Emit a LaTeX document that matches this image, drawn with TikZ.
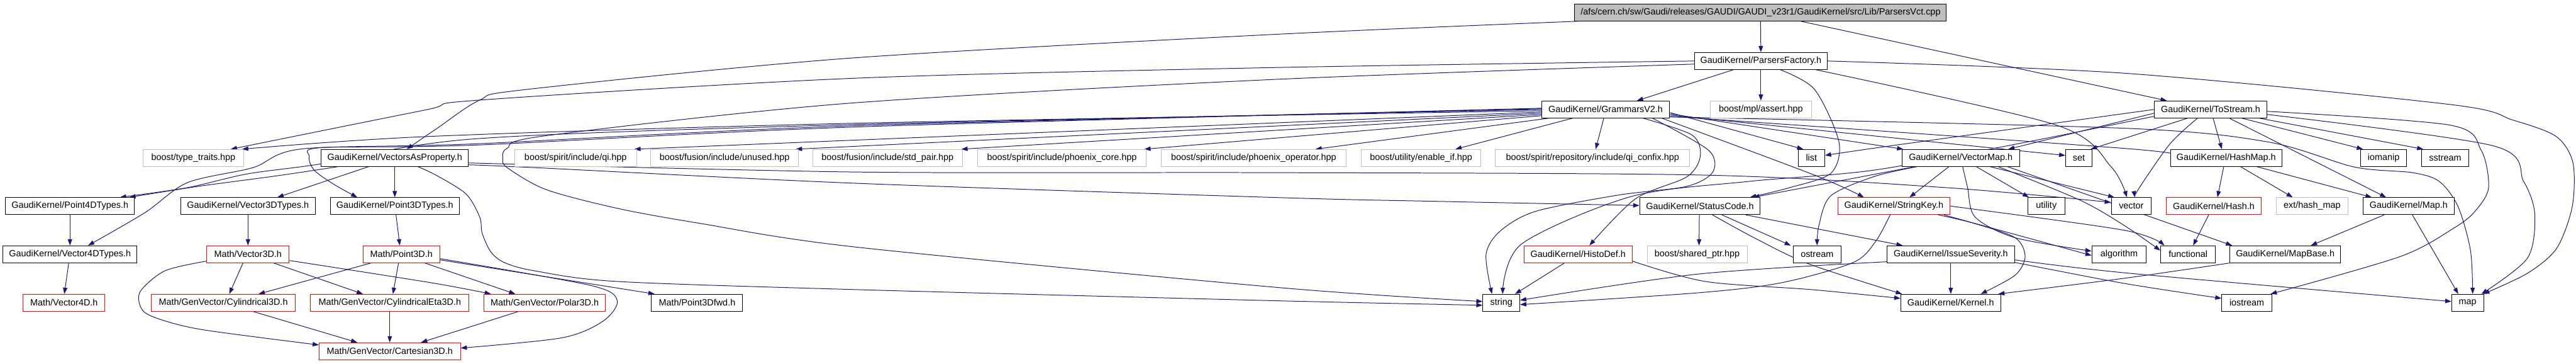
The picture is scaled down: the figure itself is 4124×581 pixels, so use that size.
\documentclass[tikz,border=0pt]{standalone}
\usepackage{fontspec}
\setmainfont{Liberation Sans}
\usetikzlibrary{arrows.meta}
\definecolor{edgec}{HTML}{191970}
\definecolor{gbord}{HTML}{BFBFBF}
\definecolor{rootfill}{HTML}{BFBFBF}
\pgfdeclarelayer{edges}
\pgfsetlayers{edges,main}
\newcommand\nodefont{\fontsize{14.5}{16}\selectfont}
\tikzset{
  nb/.style={draw=black, fill=white, minimum height=27pt, inner sep=0pt, font=\nodefont, line width=1pt},
  gb/.style={nb, draw=gbord},
  rb/.style={nb, draw=red},
  e/.style={draw=edgec, line width=1pt, -{Triangle[length=10pt,width=7pt]}},
  sm/.style={smooth, tension=0.5}
}
\begin{document}
\begin{tikzpicture}[x=1pt,y=-1pt]
\useasboundingbox (0,0) rectangle (4124,581);
% row 0-2
\node[nb,fill=rootfill,minimum width=595pt] (root) at (2818.5,20) {/afs/cern.ch/sw/Gaudi/releases/GAUDI/GAUDI\_v23r1/GaudiKernel/src/Lib/ParsersVct.cpp};
\node[nb,minimum width=212pt] (PF) at (2819,97.5) {GaudiKernel/ParsersFactory.h};
\node[nb,minimum width=205pt] (GV2) at (2570.5,175) {GaudiKernel/GrammarsV2.h};
\node[gb,minimum width=162pt] (mpl) at (2819,175) {boost/mpl/assert.hpp};
\node[nb,minimum width=180pt] (TS) at (3539,175) {GaudiKernel/ToStream.h};
% row 3
\node[gb,minimum width=161pt] (tt) at (309.5,252.5) {boost/type\_traits.hpp};
\node[nb,minimum width=236pt] (VAP) at (632,252.5) {GaudiKernel/VectorsAsProperty.h};
\node[gb,minimum width=195pt] (qi) at (921.5,252.5) {boost/spirit/include/qi.hpp};
\node[gb,minimum width=236pt] (unused) at (1160,252.5) {boost/fusion/include/unused.hpp};
\node[gb,minimum width=240pt] (stdpair) at (1421,252.5) {boost/fusion/include/std\_pair.hpp};
\node[gb,minimum width=270pt] (phcore) at (1700,252.5) {boost/spirit/include/phoenix\_core.hpp};
\node[gb,minimum width=296pt] (phop) at (2007,252.5) {boost/spirit/include/phoenix\_operator.hpp};
\node[gb,minimum width=192pt] (enif) at (2275,252.5) {boost/utility/enable\_if.hpp};
\node[gb,minimum width=311pt] (confix) at (2549.5,252.5) {boost/spirit/repository/include/qi\_confix.hpp};
\node[nb,minimum width=42pt] (list) at (2900,252.5) {list};
\node[nb,minimum width=188pt] (VM) at (3139,252.5) {GaudiKernel/VectorMap.h};
\node[nb,minimum width=42pt] (set) at (3328,252.5) {set};
\node[nb,minimum width=178pt] (HM) at (3564,252.5) {GaudiKernel/HashMap.h};
\node[nb,minimum width=74pt] (iomanip) at (3816,252.5) {iomanip};
\node[nb,minimum width=75pt] (sstream) at (3914.5,252.5) {sstream};
% row 4
\node[nb,minimum width=206pt] (P4T) at (112,329.5) {GaudiKernel/Point4DTypes.h};
\node[nb,minimum width=216pt] (V3T) at (397,329.5) {GaudiKernel/Vector3DTypes.h};
\node[nb,minimum width=206pt] (P3T) at (632,329.5) {GaudiKernel/Point3DTypes.h};
\node[nb,minimum width=193pt] (SC) at (2721.5,329.5) {GaudiKernel/StatusCode.h};
\node[rb,minimum width=180pt] (SK) at (3032,329.5) {GaudiKernel/StringKey.h};
\node[nb,minimum width=60pt] (utility) at (3276,329.5) {utility};
\node[nb,minimum width=64pt] (vector) at (3412,329.5) {vector};
\node[rb,minimum width=152pt] (Hash) at (3544,329.5) {GaudiKernel/Hash.h};
\node[gb,minimum width=115pt] (exthm) at (3701.5,329.5) {ext/hash\_map};
\node[nb,minimum width=146pt] (Map) at (3856,329.5) {GaudiKernel/Map.h};
% row 5
\node[nb,minimum width=214pt] (V4T) at (112,406.5) {GaudiKernel/Vector4DTypes.h};
\node[rb,minimum width=132pt] (MV3) at (397,406.5) {Math/Vector3D.h};
\node[rb,minimum width=123pt] (MP3) at (642.5,406.5) {Math/Point3D.h};
\node[rb,minimum width=173pt] (HD) at (2526.5,406.5) {GaudiKernel/HistoDef.h};
\node[gb,minimum width=160pt] (shptr) at (2717,406.5) {boost/shared\_ptr.hpp};
\node[nb,minimum width=76pt] (ostream) at (2909,406.5) {ostream};
\node[nb,minimum width=204pt] (IS) at (3123,406.5) {GaudiKernel/IssueSeverity.h};
\node[nb,minimum width=87pt] (algorithm) at (3392.5,406.5) {algorithm};
\node[nb,minimum width=88pt] (functional) at (3503,406.5) {functional};
\node[nb,minimum width=177pt] (MB) at (3658.5,406.5) {GaudiKernel/MapBase.h};
% row 6
\node[rb,minimum width=131pt] (MV4) at (102.5,484) {Math/Vector4D.h};
\node[rb,minimum width=231pt] (Cyl) at (357.5,484) {Math/GenVector/Cylindrical3D.h};
\node[rb,minimum width=254pt] (CylEta) at (624,484) {Math/GenVector/CylindricalEta3D.h};
\node[rb,minimum width=194pt] (Polar) at (872,484) {Math/GenVector/Polar3D.h};
\node[nb,minimum width=146pt] (P3fwd) at (1116,484) {Math/Point3Dfwd.h};
\node[nb,minimum width=59pt] (string) at (2403.5,484) {string};
\node[nb,minimum width=160pt] (Kernel) at (3123,484) {GaudiKernel/Kernel.h};
\node[nb,minimum width=80pt] (iostream) at (3597,484) {iostream};
\node[nb,minimum width=51pt] (map) at (3950.5,484) {map};
% row 7
\node[rb,minimum width=226pt] (Cart) at (624,561.5) {Math/GenVector/Cartesian3D.h};

\begin{pgfonlayer}{edges}
% root
\draw[e] (root.south) -- (PF.north);
\draw[e] ([xshift=64.5pt]root.south) -- ([xshift=-70pt]TS.north);
\draw[e] plot[sm] coordinates {([xshift=5pt]root.south west) (2040,55) (1360,93) (843,143) (768,160) (700,205) ([xshift=19pt]VAP.north)};
% ParsersFactory
\draw[e] (PF.south) -- (mpl.north);
\draw[e] ([xshift=-44pt]PF.south) -- ([xshift=50pt]GV2.north);
\draw[e] plot[sm] coordinates {(PF.west) (2040,108) (1370,125) (768,160) (680,176) ([xshift=60pt]tt.north)};
\draw[e] plot[sm] coordinates {([yshift=-5pt]PF.west) (2040,127) (1360,165) (874,217) (812,237) (805,253) (812,268) (874,303) (988,333) (1120,357) (1370,395) (2050,460) ([yshift=2pt]string.west)};
\draw[e] plot[sm] coordinates {([xshift=31pt]PF.south) (2905,143) (2944,227) (2931,277) (2865,300) ([xshift=80pt]SC.north)};
\draw[e] plot[sm] coordinates {(PF.east) (3400,117) (3922,167) (4023,192) (4092,218) (4119,260) (4118,330) (4093,397) (4046,437) ([xshift=25pt]map.north)};
\draw[e] plot[sm] coordinates {([xshift=88pt]PF.south) (3292,200) (3380,267) ([xshift=-7pt]vector.north)};
% GrammarsV2
\draw[e] ([xshift=12pt]GV2.south west) -- ([xshift=99pt]phop.north);
\draw[e] ([yshift=-10pt]GV2.west) -- ([xshift=132pt]phcore.north);
\draw[e] ([yshift=-8pt]GV2.west) -- ([xshift=118pt]stdpair.north);
\draw[e] ([yshift=-6pt]GV2.west) -- ([xshift=114pt]unused.north);
\draw[e] ([yshift=-4pt]GV2.west) -- ([xshift=94pt]qi.north);
\draw[e] plot[sm] coordinates {([yshift=-2pt]GV2.west) (1370,197) (690,218) ([xshift=78pt]tt.north)};
\draw[e] plot[sm] coordinates {(GV2.west) (1370,199) (760,222) (514,262) (396,278) (300,300) ([xshift=80pt]P4T.north)};
\draw[e] plot[sm] coordinates {([yshift=1pt]GV2.west) (1370,201) (760,230) (484,238) (405,268) (300,292) (232,340) ([xshift=29pt]V4T.north)};
\draw[e] plot[sm] coordinates {([yshift=2pt]GV2.west) (1370,203) (760,232) (515,236) (495,250) (503,272) (535,295) ([xshift=-60pt]P3T.north)};
\draw[e] ([xshift=-53pt]GV2.south) -- ([xshift=55pt]enif.north);
\draw[e] ([xshift=-3pt]GV2.south) -- ([xshift=5pt]confix.north);
\draw[e] plot[sm] coordinates {([xshift=60pt]GV2.south) (2709,216) (2722,250) (2700,283) (2618,318) ([xshift=18pt]HD.north)};
\draw[e] ([yshift=-5pt]GV2.east) -- ([xshift=-13pt]list.north);
\draw[e] ([yshift=-7pt]GV2.east) -- ([xshift=-92pt]VM.north);
\draw[e] ([yshift=-9pt]GV2.east) -- ([yshift=4pt]set.west);
\draw[e] plot[sm] coordinates {([yshift=-11pt]GV2.east) (3410,238) ([yshift=2pt]HM.west)};
\draw[e] plot[sm] coordinates {([yshift=-12pt]GV2.east) (3400,205) (3631,227) (3769,267) (3862,276) (3905,290) (3935,330) (3955,400) ([xshift=8pt]map.north)};
\draw[e] plot[sm] coordinates {([xshift=90pt]GV2.south) (2905,280) ([xshift=-48pt]SK.north)};
\draw[e] plot[sm] coordinates {([xshift=75pt]GV2.south) (2735,240) (2742,275) (2700,298) (2590,312) (2458,338) (2401,370) (2379,407) ([xshift=-15pt]string.north)};
% ToStream
\draw[e] plot[sm] coordinates {(TS.west) (3028,233) ([yshift=4pt]list.east)};
\draw[e] ([yshift=-6pt]TS.west) -- ([xshift=76pt]VM.north);
\draw[e] ([xshift=-37pt]TS.south) -- ([xshift=19pt]set.north);
\draw[e] plot[sm] coordinates {([xshift=-21pt]TS.south) (3474,230) (3425,300) ([xshift=6pt]vector.north)};
\draw[e] ([xshift=4pt]TS.south) -- ([xshift=-7pt]HM.north);
\draw[e] ([xshift=30pt]TS.south) -- ([xshift=-36pt]Map.north);
\draw[e] ([xshift=50pt]TS.south) -- ([xshift=-33pt]iomanip.north);
\draw[e] ([xshift=78pt]TS.south) -- ([xshift=-35pt]sstream.north);
\draw[e] plot[sm] coordinates {([yshift=-3pt]TS.east) (3922,200) (3972,240) (3984,300) (3963,337) (3931,363) (3843,410) ([xshift=38pt]iostream.north)};
\draw[e] plot[sm] coordinates {([yshift=-8pt]TS.east) (3991,233) (4040,290) (4058,343) (4046,413) ([xshift=22pt]map.north)};
\draw[e] plot[sm] coordinates {([yshift=-11pt]TS.west) (3240,228) (3000,272) (2800,290) (2612,314) (2436,390) ([xshift=2pt]string.north)};
% VectorMap
\draw[e] ([xshift=-74pt]VM.south) -- ([xshift=85pt]SC.north);
\draw[e] plot[sm] coordinates {([xshift=-70pt]VM.south) (3001,282) (2931,313) (2912,360) (ostream.north)};
\draw[e] ([xshift=-19pt]VM.south) -- ([xshift=25pt]SK.north);
\draw[e] plot[sm] coordinates {([xshift=3pt]VM.south) (3150,300) (3162,347) (3226,380) ([yshift=5pt]algorithm.west)};
\draw[e] ([xshift=25pt]VM.south) -- ([xshift=-28pt]utility.north);
\draw[e] ([xshift=47pt]VM.south) -- ([xshift=-27pt]vector.north);
\draw[e] plot[sm] coordinates {([xshift=60pt]VM.south) (3330,320) (3400,360) ([yshift=6pt]functional.west)};
\draw[e] ([xshift=75pt]VM.south) -- ([xshift=-85pt]MB.north);
% StringKey
\draw[e] plot[sm] coordinates {([xshift=-6pt]SK.south) (3002,387) (2966,420) (2852,452) (2720,468) ([yshift=-3pt]string.east)};
\draw[e] plot[sm] coordinates {([xshift=71pt]SK.south) (3160,357) (3226,380) (3242,410) (3226,440) ([xshift=48pt]Kernel.north)};
\draw[e] ([xshift=80pt]SK.south) -- ([yshift=-2pt]algorithm.west);
\draw[e] plot[sm] coordinates {(SK.east) (3400,368) ([xshift=-38pt]functional.north)};
% HashMap, Hash, Map, MapBase
\draw[e] ([xshift=-4pt]HM.south) -- ([xshift=6pt]Hash.north);
\draw[e] ([xshift=23pt]HM.south) -- ([xshift=-31pt]exthm.north);
\draw[e] ([xshift=49pt]HM.south) -- ([xshift=-59pt]Map.north);
\draw[e] ([xshift=-8pt]Hash.south) -- ([xshift=8pt]functional.north);
\draw[e] ([xshift=-39pt]Map.south) -- ([xshift=41pt]MB.north);
\draw[e] ([xshift=6pt]Map.south) -- ([xshift=-15pt]map.north);
\draw[e] plot[sm] coordinates {(MB.south west) (3400,445) ([xshift=76pt]Kernel.north)};
% StatusCode
\draw[e] ([xshift=-1pt]SC.south) -- ([xshift=3pt]shptr.north);
\draw[e] ([xshift=35pt]SC.south) -- ([xshift=-42pt]ostream.north);
\draw[e] ([xshift=73pt]SC.south) -- ([xshift=-77pt]IS.north);
\draw[e] plot[sm] coordinates {([xshift=20pt]SC.south) (2808,380) (2896,422) ([xshift=-78pt]Kernel.north)};
% HistoDef
\draw[e] ([xshift=-22pt]HD.south) -- ([xshift=22pt]string.north);
\draw[e] plot[sm] coordinates {([yshift=-11pt]HD.east) (2730,450) (2900,463) ([yshift=7pt]Kernel.west)};
% IssueSeverity
\draw[e] (IS.south) -- (Kernel.north);
\draw[e] plot[sm] coordinates {([yshift=-12pt]IS.west) (2720,438) ([yshift=4pt]string.east)};
\draw[e] plot[sm] coordinates {([yshift=-13pt]IS.east) (3400,453) ([yshift=7pt]iostream.west)};
\draw[e] plot[sm] coordinates {([yshift=-9pt]IS.east) (3410,437) ([yshift=2pt]map.west)};
% VectorsAsProperty
\draw[e] ([xshift=-42pt]VAP.south) -- ([xshift=47pt]V3T.north);
\draw[e] (VAP.south) -- (P3T.north);
\draw[e] plot[sm] coordinates {([xshift=-91pt]VAP.south) (444,281) (317,298) ([xshift=95pt]P4T.north)};
\draw[e] plot[sm] coordinates {([xshift=37pt]VAP.south) (698,280) (746,310) (768,347) (772,373) (786,403) (808,420) (856,433) (988,450) (1370,463) (2050,481) ([yshift=-4pt]string.west)};
\draw[e] plot[sm] coordinates {([yshift=-11pt]VAP.east) (856,268) (1370,293) (2050,316) (2304,322) ([yshift=1pt]SC.west)};
\draw[e] plot[sm] coordinates {([yshift=-8pt]VAP.east) (1370,275) (2040,276) (2730,280) (3116,300) ([yshift=6pt]vector.west)};
% Math
\draw[e] (P4T.south) -- (V4T.north);
\draw[e] ([xshift=-2pt]V4T.south) -- ([xshift=0.5pt]MV4.north);
\draw[e] (V3T.south) -- (MV3.north);
\draw[e] ([xshift=2pt]P3T.south) -- ([xshift=-2.5pt]MP3.north);
\draw[e] ([xshift=-8pt]MV3.south) -- ([xshift=9.5pt]Cyl.north);
\draw[e] ([xshift=41pt]MV3.south) -- ([xshift=-43pt]CylEta.north);
\draw[e] plot[sm] coordinates {([yshift=-10pt]MV3.east) (690,452) ([xshift=-86pt]Polar.north)};
\draw[e] plot[sm] coordinates {([yshift=-11pt]MV3.west) (264,433) (224,467) (229,497) (264,513) (330,528) ([yshift=10pt]Cart.west)};
\draw[e] ([xshift=-48.5pt]MP3.south) -- ([xshift=56.5pt]Cyl.north);
\draw[e] ([xshift=-4.5pt]MP3.south) -- ([xshift=5pt]CylEta.north);
\draw[e] ([xshift=37.5pt]MP3.south) -- ([xshift=-47pt]Polar.north);
\draw[e] ([yshift=-9pt]MP3.east) -- ([xshift=-68pt]P3fwd.north);
\draw[e] plot[sm] coordinates {([yshift=-7pt]MP3.east) (944,456) (988,480) (966,513) (900,540) ([yshift=5pt]Cart.east)};
\draw[e] ([xshift=47.5pt]Cyl.south) -- ([xshift=-52pt]Cart.north);
\draw[e] (CylEta.south) -- (Cart.north);
\draw[e] ([xshift=-42pt]Polar.south) -- ([xshift=50pt]Cart.north);
\end{pgfonlayer}
\end{tikzpicture}
\end{document}
